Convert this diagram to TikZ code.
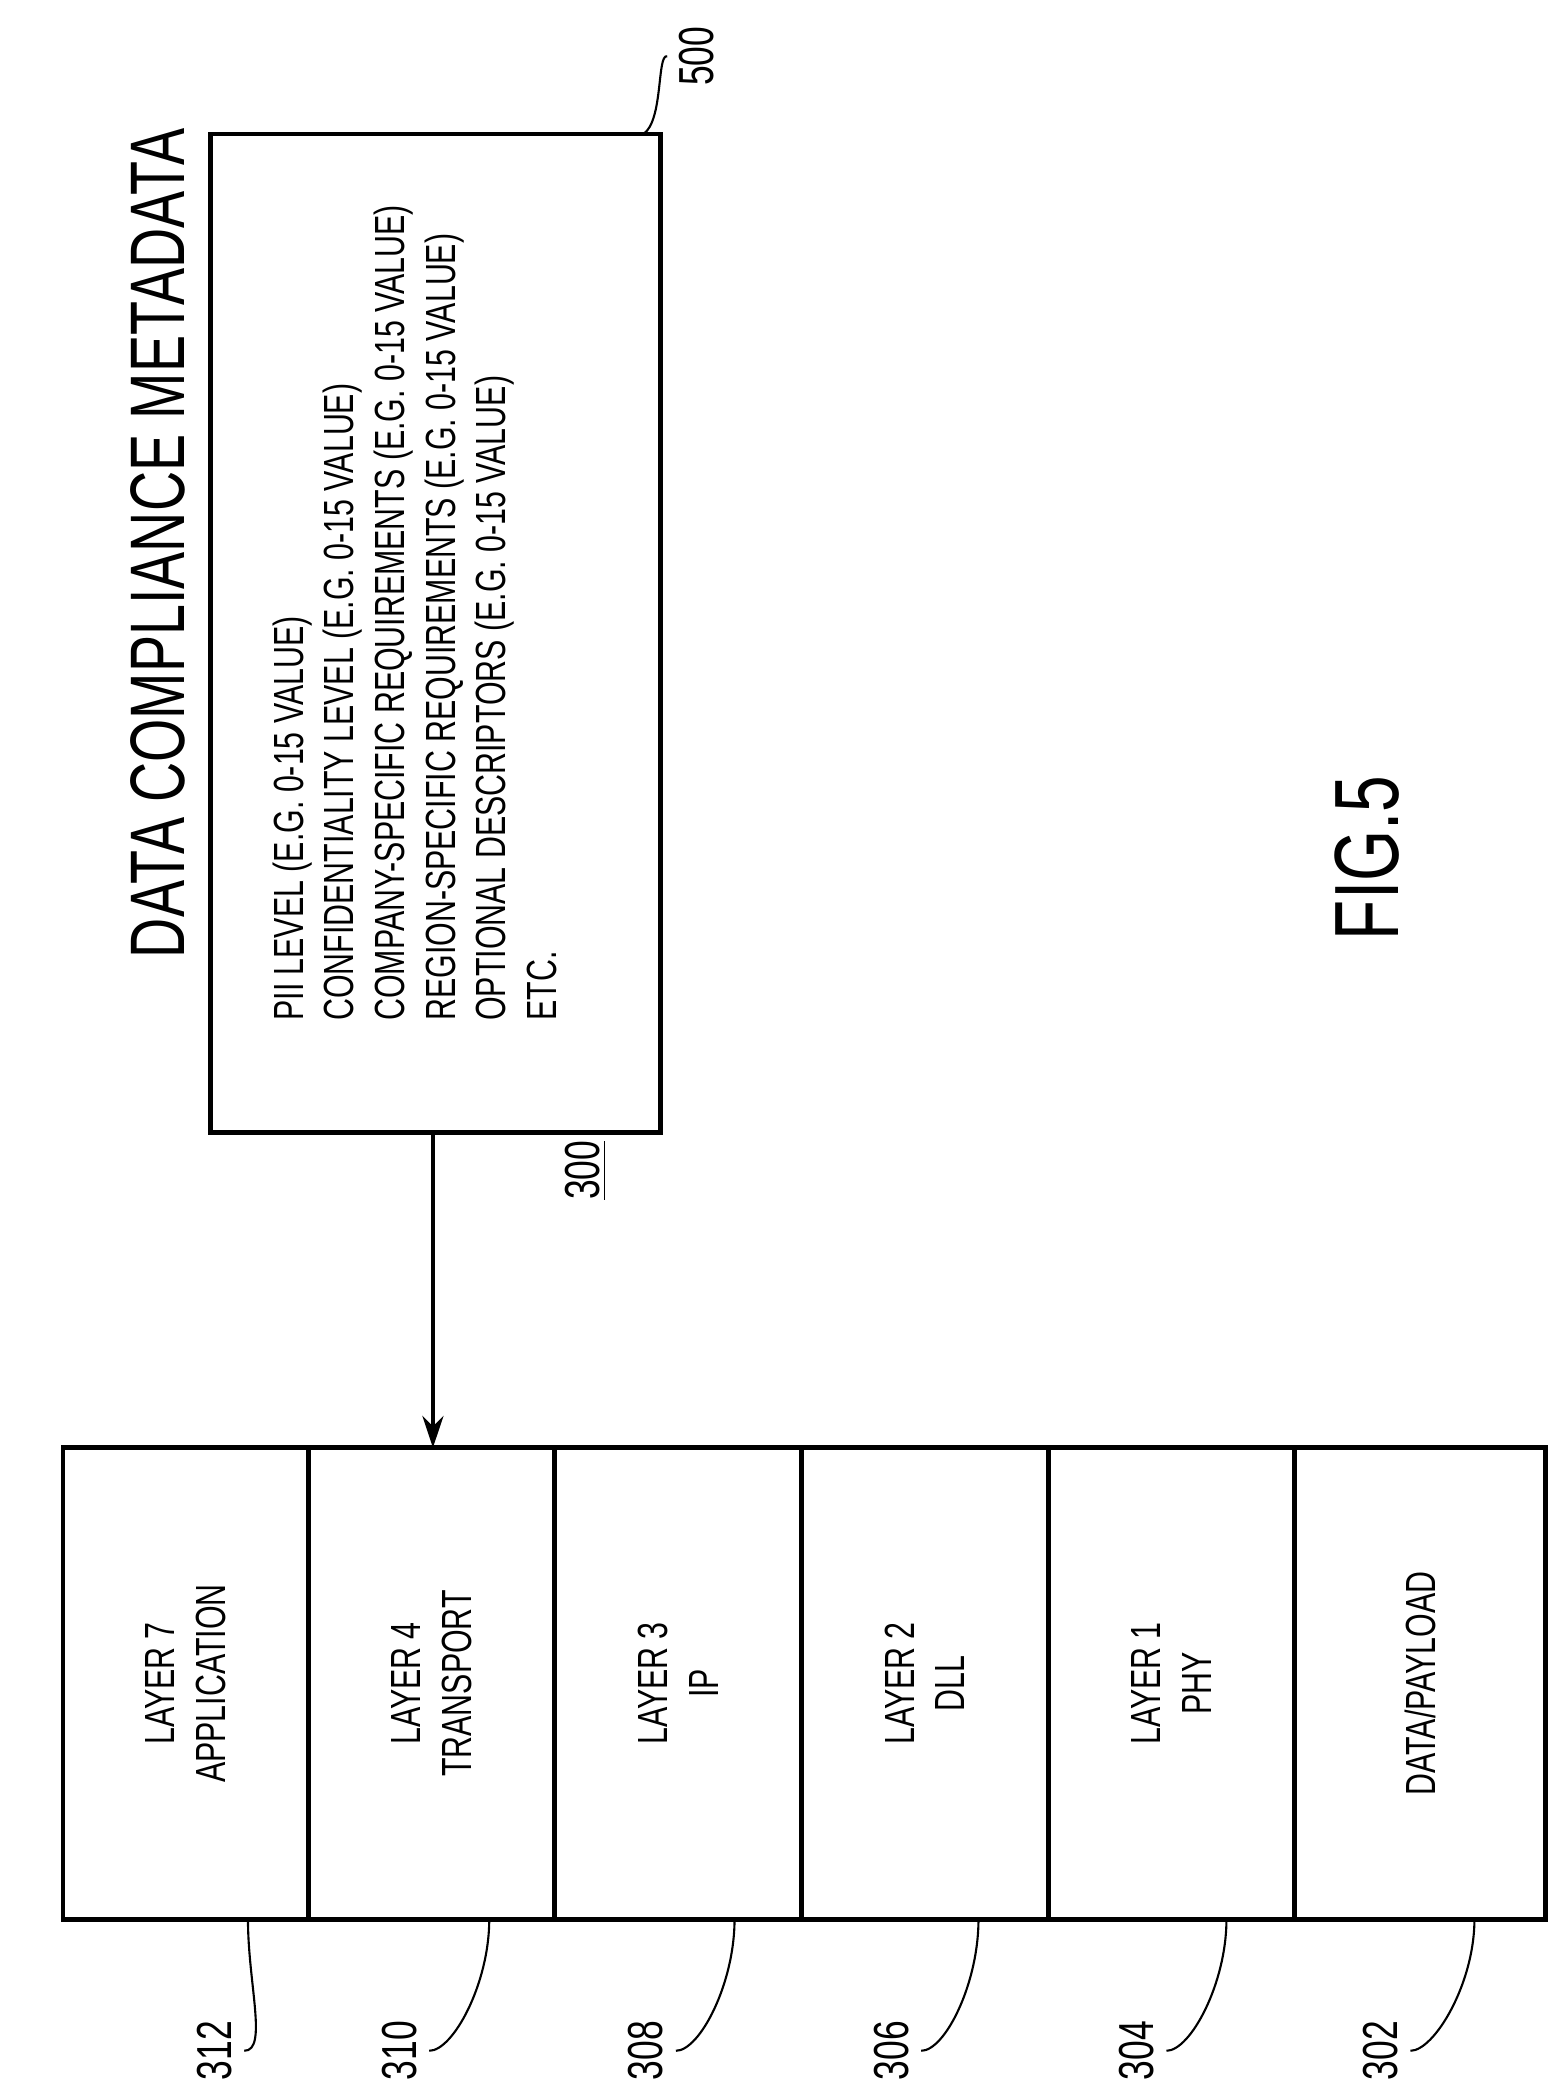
\documentclass[tikz,border=0pt]{standalone}
\usepackage{fontspec}
\setmainfont{Liberation Sans}
\newfontfamily\narrowfont[FakeStretch=0.72]{Liberation Sans}
\usetikzlibrary{arrows.meta}
\tikzset{
  layerbox/.style={draw, line width=1.4pt},
  rottext/.style={rotate=90, font=\narrowfont\fontsize{12}{14.4}\selectfont, align=center},
  refnum/.style={rotate=90, font=\narrowfont\fontsize{14}{16}\selectfont},
  leader/.style={line width=0.6pt}
}
\begin{document}
\begin{tikzpicture}[x=0.01341cm, y=-0.01341cm]
            \useasboundingbox (0,0) rectangle (1164,1563);
            % protocol layer stack
            \node[layerbox, minimum width=183*0.01341cm, minimum height=352*0.01341cm] (l7) at (138.5,1256) {};
            \node[layerbox, minimum width=184*0.01341cm, minimum height=352*0.01341cm] (l4) at (322,1256) {};
            \node[layerbox, minimum width=184*0.01341cm, minimum height=352*0.01341cm] (l3) at (506,1256) {};
            \node[layerbox, minimum width=184*0.01341cm, minimum height=352*0.01341cm] (l2) at (690,1256) {};
            \node[layerbox, minimum width=184*0.01341cm, minimum height=352*0.01341cm] (l1) at (874,1256) {};
            \node[layerbox, minimum width=187*0.01341cm, minimum height=352*0.01341cm] (dp) at (1059.5,1256) {};
            \node[rottext] at (l7) {LAYER 7\\APPLICATION};
            \node[rottext] at (l4) {LAYER 4\\TRANSPORT};
            \node[rottext] at (l3) {LAYER 3\\IP};
            \node[rottext] at (l2) {LAYER 2\\DLL};
            \node[rottext] at (l1) {LAYER 1\\PHY};
            \node[rottext] at (dp) {DATA/PAYLOAD};

            % metadata box
            \node[layerbox, minimum width=336*0.01341cm, minimum height=745*0.01341cm] (meta) at (325,472.5) {};
            \node[rotate=90, anchor=west, font=\narrowfont\fontsize{22}{24}\selectfont] (title) at (118,724) {DATA COMPLIANCE METADATA};
            \node[rotate=90, anchor=north west, align=left, inner sep=0pt,
                  font=\narrowfont\fontsize{12}{14.4}\selectfont] (items) at (203,762)
                  {PII LEVEL (E.G. 0-15 VALUE)\\CONFIDENTIALITY LEVEL (E.G. 0-15 VALUE)\\COMPANY-SPECIFIC REQUIREMENTS (E.G. 0-15 VALUE)\\REGION-SPECIFIC REQUIREMENTS (E.G. 0-15 VALUE)\\OPTIONAL DESCRIPTORS (E.G. 0-15 VALUE)\\ETC.};
            \coordinate (tip) at (323,1080);
            \draw[line width=1pt, -{Stealth[length=9pt, width=6pt]}] (meta.south -| tip) -- (tip);

            \node[refnum] (n300) at (437,873) {\underline{300}};
            \node[refnum] (n500) at (520,42) {500};
            \draw[leader] (n500.north) .. controls (490,40) and (495,90) .. (480,100);
            \node[rotate=90, font=\narrowfont\fontsize{26}{28}\selectfont] (fig) at (1020,640) {FIG.5};

            % reference numerals
            \foreach \lx/\bx/\num in {160/185/312, 298/365/310, 482/548/308, 665/730/306, 848/915/304, 1030/1100/302}{
              \node[refnum] (r\num) at (\lx,1530) {\num};
              \draw[leader] (r\num.south) .. controls (\lx+40,1530) and (\bx,1480) .. (\bx,1432);
            }
        \end{tikzpicture}
\end{document}
